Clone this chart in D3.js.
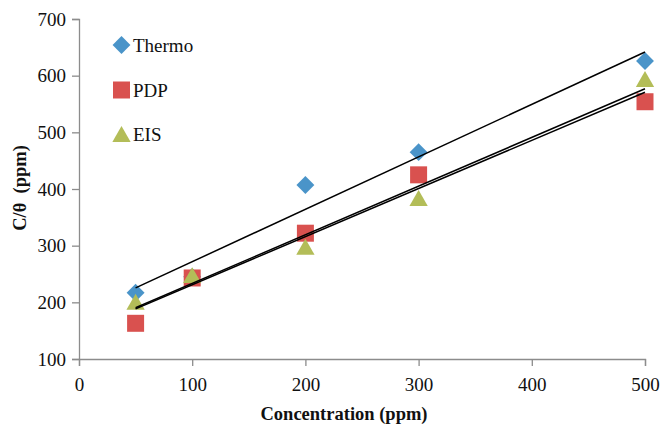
<!DOCTYPE html>
<html lang="en">
<head>
<meta charset="UTF-8">
<title>C/theta vs Concentration</title>
<script src="https://d3js.org/d3.v7.min.js"></script>
<style>
    body { margin: 0; background: #fff; }
    svg { font-family: "Liberation Serif", "Times New Roman", serif; }
    .axis path, .axis line { stroke: #8c8c8c; stroke-width: 1.3px; }
    .axis text { font-size: 19px; fill: #111; font-family: "Liberation Serif", serif; }
    .title { font-size: 18.5px; font-weight: bold; fill: #111; }
    .trend { fill: none; stroke: #000; stroke-width: 1.5px; }
    .legend text { font-size: 19px; fill: #111; }
</style>
</head>
<body>
<svg width="660" height="424"></svg>
<script>
// data
const concentration = [50, 100, 200, 300, 500];
const thermo = [217, 245, 407, 465, 626];
const pdp = [163, 243, 322, 425, 554];
const eis = [201, 248, 298, 384, 594];
const xTicks = [0, 100, 200, 300, 400, 500];
const yTicks = [100, 200, 300, 400, 500, 600, 700];

const series = [
    {name: "Thermo", values: thermo, color: "#4a94c9", shape: d3.symbolSquare, size: 160, rot: 45, dy: 0},
    {name: "PDP", values: pdp, color: "#d9514f", shape: d3.symbolSquare, size: 289, rot: 0, dy: 0},
    {name: "EIS", values: eis, color: "#b3bd58", shape: d3.symbolTriangle, size: 145, rot: 0, dy: 2.6}
];

const margin = {top: 19, right: 15, bottom: 65, left: 79};
const width = 660 - margin.left - margin.right;
const height = 424 - margin.top - margin.bottom;

const svg = d3.select("svg")
  .append("g")
    .attr("transform", "translate(" + margin.left + "," + margin.top + ")");

const x = d3.scaleLinear().domain([0, 500]).range([0, 566]);
const y = d3.scaleLinear().domain([100, 700]).range([height, 0]);

// axes
svg.append("g")
    .attr("class", "axis")
    .attr("transform", "translate(0," + height + ")")
    .call(d3.axisBottom(x).tickValues(xTicks).tickSize(7).tickSizeOuter(7).tickPadding(12));

svg.append("g")
    .attr("class", "axis")
    .call(d3.axisLeft(y).tickValues(yTicks).tickSize(7).tickSizeOuter(7).tickPadding(6));

// least squares trend line, as the spreadsheet draws it
function fit(xs, ys) {
    const mx = d3.mean(xs), my = d3.mean(ys);
    let sxy = 0, sxx = 0;
    xs.forEach((v, i) => { sxy += (v - mx) * (ys[i] - my); sxx += (v - mx) * (v - mx); });
    const b = sxy / sxx;
    return v => my + b * (v - mx);
}

const line = d3.line().x(d => x(d[0])).y(d => y(d[1]));
const xr = d3.extent(concentration);

// markers
series.forEach(s => {
    svg.selectAll(null)
        .data(s.values)
      .enter().append("path")
        .attr("d", d3.symbol().type(s.shape).size(s.size))
        .attr("transform", (d, i) => "translate(" + x(concentration[i]) + "," + (y(d) + s.dy) + ") rotate(" + s.rot + ")")
        .attr("fill", s.color);
});

// trend lines on top
series.forEach(s => {
    const f = fit(concentration, s.values);
    svg.append("path")
        .attr("class", "trend")
        .attr("d", line(xr.map(v => [v, f(v)])));
});

// legend
const legend = svg.append("g").attr("class", "legend");
const legendY = [45, 90, 134];
series.forEach((s, i) => {
    const g = legend.append("g")
        .attr("transform", "translate(" + (121.5 - margin.left) + "," + (legendY[i] - margin.top) + ")");
    g.append("path")
        .attr("d", d3.symbol().type(s.shape).size(s.size))
        .attr("transform", "translate(0," + s.dy + ") rotate(" + s.rot + ")")
        .attr("fill", s.color);
    g.append("text")
        .attr("x", 11.5)
        .attr("y", 6.5)
        .text(s.name);
});

// axis titles
svg.append("text")
    .attr("class", "title")
    .attr("x", 344 - margin.left)
    .attr("y", 420 - margin.top)
    .attr("text-anchor", "middle")
    .text("Concentration (ppm)");

svg.append("text")
    .attr("class", "title")
    .attr("transform", "translate(" + (26 - margin.left) + "," + (188 - margin.top) + ") rotate(-90)")
    .attr("text-anchor", "middle")
    .attr("xml:space", "preserve")
    .text("C/θ  (ppm)");
</script>
</body>
</html>
